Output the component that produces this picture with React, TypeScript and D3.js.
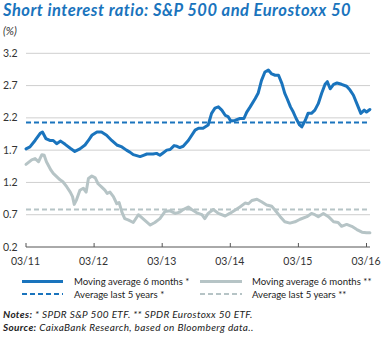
import React from "react";
import * as d3 from "d3";

// months since 03/2011
const spMonths = [0,0.7,1.6,2.5,2.9,3.5,4.2,4.8,5.4,6.1,6.9,7.8,8.6,9.5,10.4,11.0,11.6,12.5,13.3,14.2,15.1,16.0,16.9,17.7,18.3,18.9,20.1,20.7,21.3,22.4,23.0,23.6,24.2,24.8,25.4,26.1,26.6,27.1,27.7,28.6,29.8,30.4,31.2,32.1,32.7,33.3,33.9,34.5,35.1,35.6,36.1,36.8,37.7,38.4,38.9,39.5,40.4,40.9,41.5,42.1,42.7,43.3,43.9,44.5,45.1,45.6,46.0,46.6,47.1,47.6,48.2,48.6,49.2,49.7,50.3,50.9,51.5,52.1,52.7,53.1,53.6,54.2,54.8,55.6,56.5,57.1,57.7,58.3,59.0,59.6,60.0,60.6];
const spValues = [1.72,1.75,1.85,1.96,1.98,1.88,1.85,1.85,1.80,1.84,1.79,1.73,1.68,1.72,1.78,1.85,1.93,1.98,1.98,1.93,1.85,1.78,1.75,1.70,1.67,1.63,1.60,1.62,1.64,1.64,1.65,1.62,1.66,1.70,1.71,1.77,1.76,1.74,1.76,1.85,2.01,2.04,2.04,2.09,2.27,2.35,2.37,2.32,2.24,2.22,2.15,2.16,2.19,2.19,2.29,2.37,2.50,2.58,2.78,2.91,2.94,2.88,2.86,2.86,2.73,2.58,2.50,2.37,2.29,2.19,2.09,2.06,2.16,2.27,2.27,2.32,2.42,2.58,2.72,2.76,2.65,2.72,2.74,2.72,2.69,2.63,2.55,2.42,2.27,2.32,2.29,2.33];

const esMonths = [0,1.0,1.6,2.2,2.8,3.2,3.6,4.4,4.8,5.4,6.0,6.5,7.2,7.8,8.2,8.5,8.9,9.5,10.1,10.6,11.0,11.6,12.2,12.7,13.3,13.9,14.3,14.8,15.4,16.0,16.4,16.9,17.4,18.0,18.9,19.8,20.7,21.9,22.7,23.6,24.5,25.4,26.3,27.1,27.7,28.6,29.2,30.1,31.0,31.5,32.1,33.0,33.9,35.1,35.9,36.8,37.7,38.6,39.2,39.8,40.7,41.5,42.4,43.3,43.9,44.8,45.6,46.5,47.4,48.3,49.5,50.3,50.9,51.5,52.4,53.3,54.2,55.0,55.6,56.5,57.4,58.3,59.2,60.0,60.6];
const esValues = [1.48,1.55,1.57,1.52,1.63,1.62,1.52,1.39,1.34,1.29,1.24,1.21,1.13,1.05,0.98,0.86,0.93,1.08,1.11,1.05,1.26,1.30,1.27,1.18,1.13,1.08,1.03,1.05,0.98,0.87,0.89,0.74,0.64,0.62,0.58,0.70,0.63,0.54,0.58,0.64,0.75,0.76,0.72,0.74,0.78,0.82,0.78,0.73,0.70,0.64,0.72,0.78,0.72,0.68,0.72,0.77,0.82,0.88,0.87,0.92,0.94,0.90,0.85,0.83,0.77,0.67,0.59,0.57,0.59,0.63,0.67,0.72,0.70,0.67,0.72,0.67,0.59,0.58,0.52,0.55,0.52,0.47,0.43,0.42,0.42];

const spAverage = 2.13;
const esAverage = 0.78;

const yTicks = [0.2, 0.7, 1.2, 1.7, 2.2, 2.7, 3.2];
const xTickMonths = [0, 12, 24, 36, 48, 60];
const xTickLabels = ["03/11", "03/12", "03/13", "03/14", "03/15", "03/16"];

const legendLabels = [
  "Moving average 6 months *",
  "Average last 5 years *",
  "Moving average 6 months **",
  "Average last 5 years **",
];

const BLUE = "#1a74bd";
const GRAY = "#b6c4c6";
const FONT = "Lato, 'Open Sans', sans-serif";

export default function App() {
  const W = 384, H = 338;
  const x = d3.scaleLinear().domain([0, 60]).range([26, 366.5]);
  const y = d3.scaleLinear().domain([0.2, 3.2]).range([247, 53.3]);
  const line = d3
    .line<[number, number]>()
    .x((d) => x(d[0]))
    .y((d) => y(d[1]))
    .curve(d3.curveLinear);
  const sp = spMonths.map((m, i) => [m, spValues[i]] as [number, number]);
  const es = esMonths.map((m, i) => [m, esValues[i]] as [number, number]);
  const x0 = 26, x1 = 370;

  return (
    <svg width={W} height={H} style={{ position: "absolute", left: 0, top: 0, background: "#fff" }} fontFamily={FONT}>
      <text x={3} y={16} fontSize={16.5} fontWeight="bold" fontStyle="italic" fill={BLUE} letterSpacing={0.5}>
        Short interest ratio: S&amp;P 500 and Eurostoxx 50
      </text>
      <text x={3} y={35} fontSize={11} fontStyle="italic" fill="#333">(%)</text>

      {yTicks.map((t) => (
        <g key={t}>
          {t !== 0.2 && (
            <line x1={x0} x2={x1} y1={y(t)} y2={y(t)} stroke="#cfcfcf" strokeWidth={1} />
          )}
          <text x={3} y={y(t) + 3.5} fontSize={10.5} fill="#333">{t.toFixed(1)}</text>
        </g>
      ))}
      <line x1={x0} x2={x1} y1={y(0.2)} y2={y(0.2)} stroke="#555" strokeWidth={1} />
      {xTickMonths.map((m, i) => (
        <g key={m}>
          <line x1={x(m)} x2={x(m)} y1={y(0.2)} y2={y(0.2) - 4} stroke="#555" strokeWidth={1} />
          <text x={x(m) - 0.5} y={265} fontSize={10.5} fill="#333" textAnchor="middle">{xTickLabels[i]}</text>
        </g>
      ))}

      <line x1={x0} x2={x1} y1={y(esAverage)} y2={y(esAverage)} stroke={GRAY} strokeWidth={2} strokeDasharray="5,3" />
      <line x1={x0} x2={x1} y1={y(spAverage)} y2={y(spAverage)} stroke={BLUE} strokeWidth={2} strokeDasharray="5,3" />
      <path d={line(es) || ""} fill="none" stroke={GRAY} strokeWidth={3} strokeLinejoin="round" strokeLinecap="round" />
      <path d={line(sp) || ""} fill="none" stroke={BLUE} strokeWidth={3} strokeLinejoin="round" strokeLinecap="round" />

      {/* legend */}
      <line x1={22} x2={63} y1={281.5} y2={281.5} stroke={BLUE} strokeWidth={3} />
      <text x={74} y={285} fontSize={9.6} fill="#222">{legendLabels[0]}</text>
      <line x1={22} x2={63} y1={294} y2={294} stroke={BLUE} strokeWidth={1.8} strokeDasharray="5,3" />
      <text x={74} y={297.5} fontSize={9.6} fill="#222">{legendLabels[1]}</text>
      <line x1={200} x2={242} y1={281.5} y2={281.5} stroke={GRAY} strokeWidth={3} />
      <text x={252} y={285} fontSize={9.6} fill="#222">{legendLabels[2]}</text>
      <line x1={200} x2={242} y1={294} y2={294} stroke={GRAY} strokeWidth={1.8} strokeDasharray="5,3" />
      <text x={252} y={297.5} fontSize={9.6} fill="#222">{legendLabels[3]}</text>

      <text x={3} y={318} fontSize={10} fontStyle="italic" fill="#222" letterSpacing={0.35}>
        <tspan fontWeight="bold">Notes:</tspan> * SPDR S&amp;P 500 ETF.  ** SPDR Eurostoxx 50 ETF.
      </text>
      <text x={3} y={331} fontSize={10} fontStyle="italic" fill="#222" letterSpacing={0.35}>
        <tspan fontWeight="bold">Source:</tspan> CaixaBank Research, based on Bloomberg data..
      </text>
    </svg>
  );
}
